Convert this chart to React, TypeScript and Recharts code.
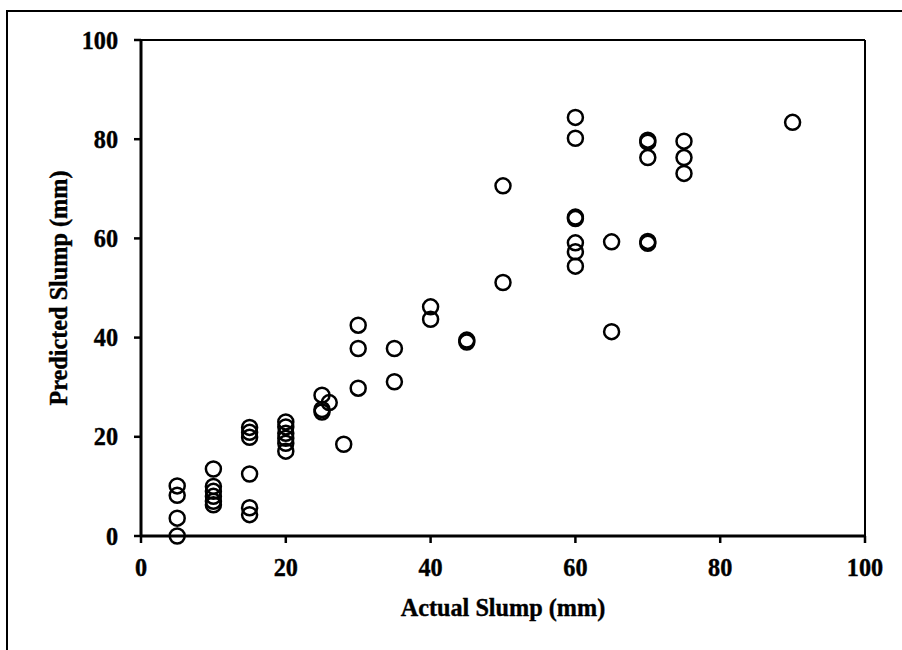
import React from 'react';
import { ScatterChart, Scatter, XAxis, YAxis, ReferenceLine, Label } from 'recharts';

const actualSlump = [
  5, 5, 5, 5,
  10, 10, 10, 10, 10, 10,
  15, 15, 15, 15, 15, 15,
  20, 20, 20, 20, 20, 20,
  25, 25, 25, 26, 28,
  30, 30, 30, 35, 35, 40, 40, 45, 45, 50, 50,
  60, 60, 60, 60, 60, 60, 60,
  65, 65,
  70, 70, 70, 70, 70,
  75, 75, 75, 90,
];
const predictedSlump = [
  10.1, 8.2, 3.6, 0,
  13.5, 10, 9, 8, 7, 6.3,
  21.9, 20.9, 19.9, 12.5, 5.7, 4.3,
  23, 22, 20.7, 19.7, 18.7, 17.1,
  28.4, 25.5, 25.0, 26.9, 18.5,
  42.5, 37.8, 29.8, 37.8, 31.1, 46.2, 43.7, 39.5, 39.1, 70.6, 51.1,
  84.4, 80.2, 64.3, 64.0, 59.1, 57.3, 54.4,
  59.3, 41.2,
  79.8, 79.4, 76.3, 59.4, 59.0,
  79.6, 76.3, 73.1, 83.4,
];
const xTicks = [0, 20, 40, 60, 80, 100];
const yTicks = [0, 20, 40, 60, 80, 100];
const xTitle = 'Actual Slump (mm)';
const yTitle = 'Predicted Slump (mm)';

const data = actualSlump.map((a, i) => ({ x: a, y: predictedSlump[i] }));

const FONT = "'Liberation Serif', 'DejaVu Serif', serif";
const textStyle = { fontFamily: FONT, fontWeight: 700, fontSize: 25 } as const;
const SX = 0.97;

const Ring = (props: any) => {
  const { cx, cy } = props;
  if (cx == null || cy == null) return null;
  return <circle cx={cx} cy={cy} r={7.5} fill="none" stroke="#000" strokeWidth={2.5} />;
};

const XTick = (props: any) => {
  const { x, y, payload } = props;
  return (
    <text
      x={0}
      y={0}
      transform={`translate(${x}, ${y + 17}) scale(${SX}, 1)`}
      textAnchor="middle"
      fill="#000"
      stroke="#000"
      strokeWidth={0.4}
      style={textStyle}
    >
      {payload.value}
    </text>
  );
};

const YTick = (props: any) => {
  const { x, y, payload } = props;
  return (
    <text
      x={0}
      y={0}
      transform={`translate(${x}, ${y + 8.5}) scale(${SX}, 1)`}
      textAnchor="end"
      fill="#000"
      stroke="#000"
      strokeWidth={0.4}
      style={textStyle}
    >
      {payload.value}
    </text>
  );
};

export default function App() {
  return (
    <div style={{ position: 'absolute', left: 0, top: 0, width: 902, height: 650, background: '#fff', overflow: 'hidden' }}>
      <div style={{ position: 'absolute', left: 6, top: 10, width: 1000, height: 1000, borderTop: '2px solid #000', borderLeft: '2px solid #000' }} />
      <div style={{ position: 'absolute', left: 0, top: 0 }}>
        <ScatterChart width={902} height={650} margin={{ top: 40, right: 37, bottom: 54, left: 61 }}>
          <XAxis
            type="number"
            dataKey="x"
            domain={[0, 100]}
            ticks={xTicks}
            height={60}
            tickSize={7}
            tickMargin={16}
            axisLine={{ stroke: '#000', strokeWidth: 3 }}
            tickLine={{ stroke: '#000', strokeWidth: 2.5 }}
            tick={<XTick />}
          >
            <Label
              content={({ viewBox }: any) => (
                <text
                  x={0}
                  y={0}
                  transform={`translate(${viewBox.x + viewBox.width / 2}, ${viewBox.y + 80}) scale(${SX}, 1)`}
                  textAnchor="middle"
                  fill="#000"
                  stroke="#000"
                  strokeWidth={0.4}
                  style={textStyle}
                >
                  {xTitle}
                </text>
              )}
            />
          </XAxis>
          <YAxis
            type="number"
            dataKey="y"
            domain={[0, 100]}
            ticks={yTicks}
            width={80}
            tickSize={7}
            tickMargin={16}
            axisLine={{ stroke: '#000', strokeWidth: 3 }}
            tickLine={{ stroke: '#000', strokeWidth: 2.5 }}
            tick={<YTick />}
          >
            <Label
              content={({ viewBox }: any) => {
                const cx = 58;
                const cy = viewBox.y + viewBox.height / 2;
                return (
                  <text
                    x={0}
                    y={0}
                    transform={`translate(${cx}, ${cy}) rotate(-90) scale(${SX}, 1)`}
                    textAnchor="middle"
                    dominantBaseline="central"
                    fill="#000"
                    stroke="#000"
                    strokeWidth={0.4}
                    style={textStyle}
                  >
                    {yTitle}
                  </text>
                );
              }}
            />
          </YAxis>
          <ReferenceLine y={100} stroke="#000" strokeWidth={2} ifOverflow="visible" />
          <ReferenceLine x={100} stroke="#000" strokeWidth={2} ifOverflow="visible" />
          <Scatter data={data} shape={<Ring />} isAnimationActive={false} />
        </ScatterChart>
      </div>
    </div>
  );
}
